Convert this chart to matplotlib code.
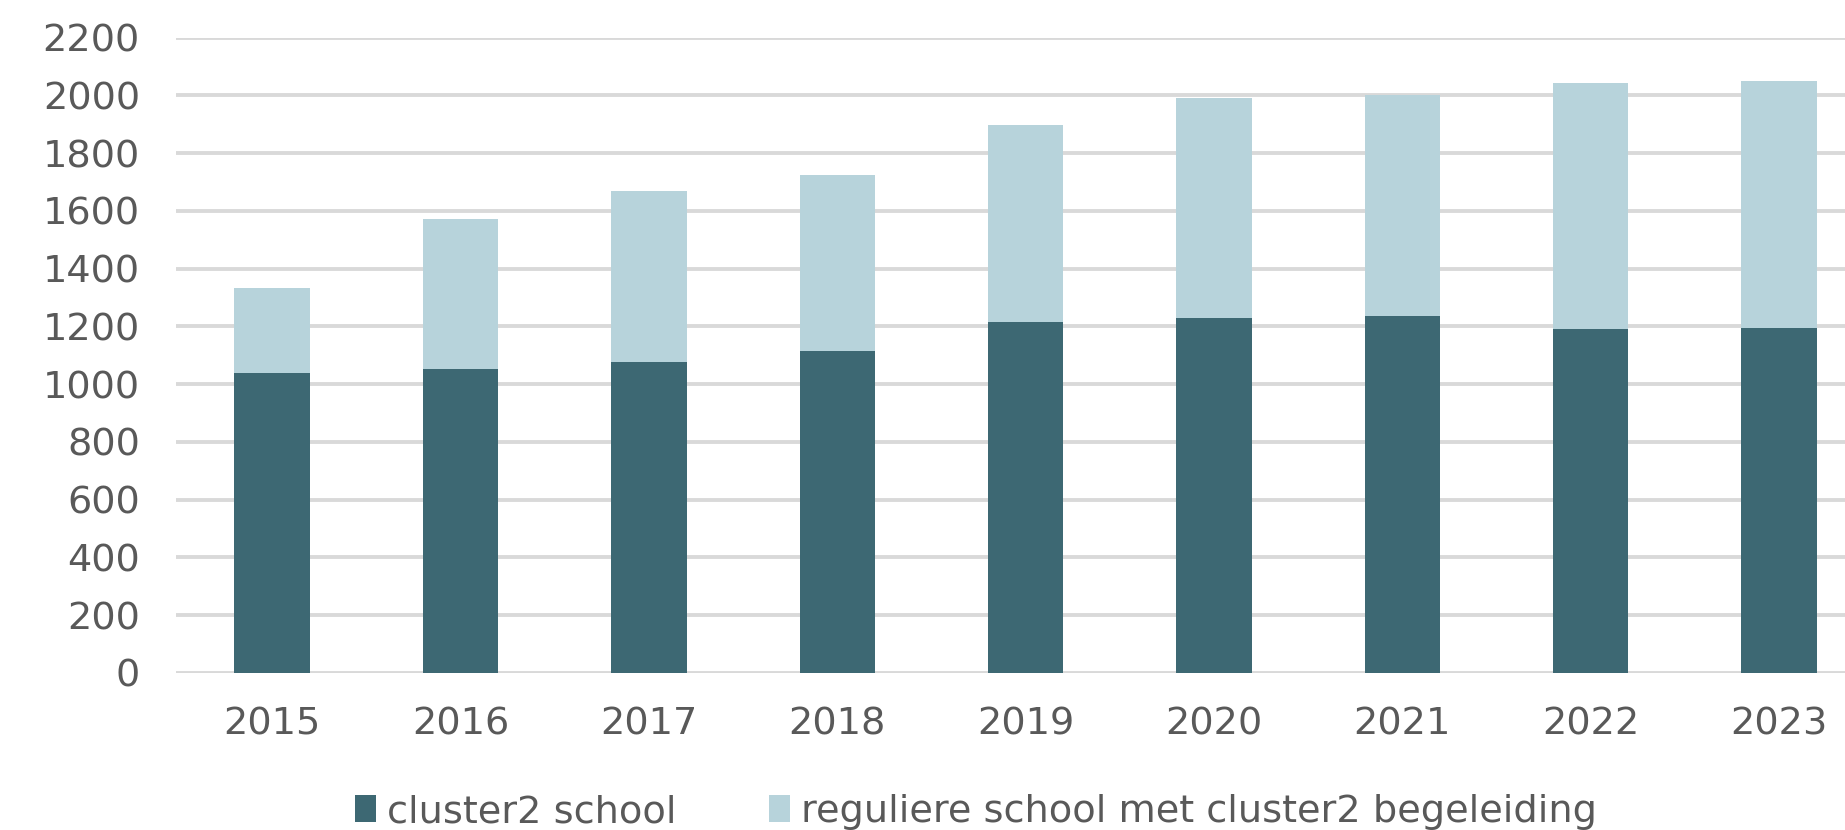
import numpy as np
import matplotlib
matplotlib.use('Agg')
import matplotlib.pyplot as plt
from matplotlib.patches import Patch

# data
years = ['2015', '2016', '2017', '2018', '2019', '2020', '2021', '2022', '2023']
cluster2_school = [1040, 1053, 1077, 1116, 1216, 1229, 1235, 1191, 1196]
totaal = [1333, 1573, 1667, 1723, 1898, 1989, 2001, 2041, 2051]
regulier = [t - c for t, c in zip(totaal, cluster2_school)]

labels = ['cluster2 school', 'reguliere school met cluster2 begeleiding']
DARK = '#3d6873'
LIGHT = '#b7d3db'
TXT = '#595959'
GRID = '#d9d9d9'

plt.rcParams['font.family'] = ['DejaVu Sans']

fig = plt.figure(figsize=(18.45, 8.3), dpi=100)
ax = fig.add_axes([0.0954, 0.1892, 0.9046, 0.7656])

x = np.arange(len(years))
ax.bar(x, cluster2_school, width=0.4, color=DARK, zorder=3)
ax.bar(x, regulier, width=0.4, bottom=cluster2_school, color=LIGHT, zorder=3)

ax.set_ylim(0, 2200)
ax.set_xlim(-0.51, 8.35)
ax.set_yticks(range(0, 2201, 200))
ax.set_xticks(x)
ax.set_xticklabels(years)
ax.yaxis.grid(True, color=GRID, linewidth=2.8, zorder=0)
ax.set_axisbelow(True)
for s in ax.spines.values():
    s.set_visible(False)
ax.tick_params(axis='both', length=0, labelsize=27.5, labelcolor=TXT)
ax.tick_params(axis='y', pad=26)
ax.tick_params(axis='x', pad=24)

handles = [Patch(facecolor=DARK), Patch(facecolor=LIGHT)]
fig.legend(handles, labels, loc='center', bbox_to_anchor=(0.529, 1 - 812 / 830),
           ncol=2, frameon=False, fontsize=27.5, labelcolor=TXT,
           handlelength=0.55, handleheight=0.7, handletextpad=0.3, columnspacing=2.4)

fig.savefig('out.png', dpi=100, facecolor='white')
